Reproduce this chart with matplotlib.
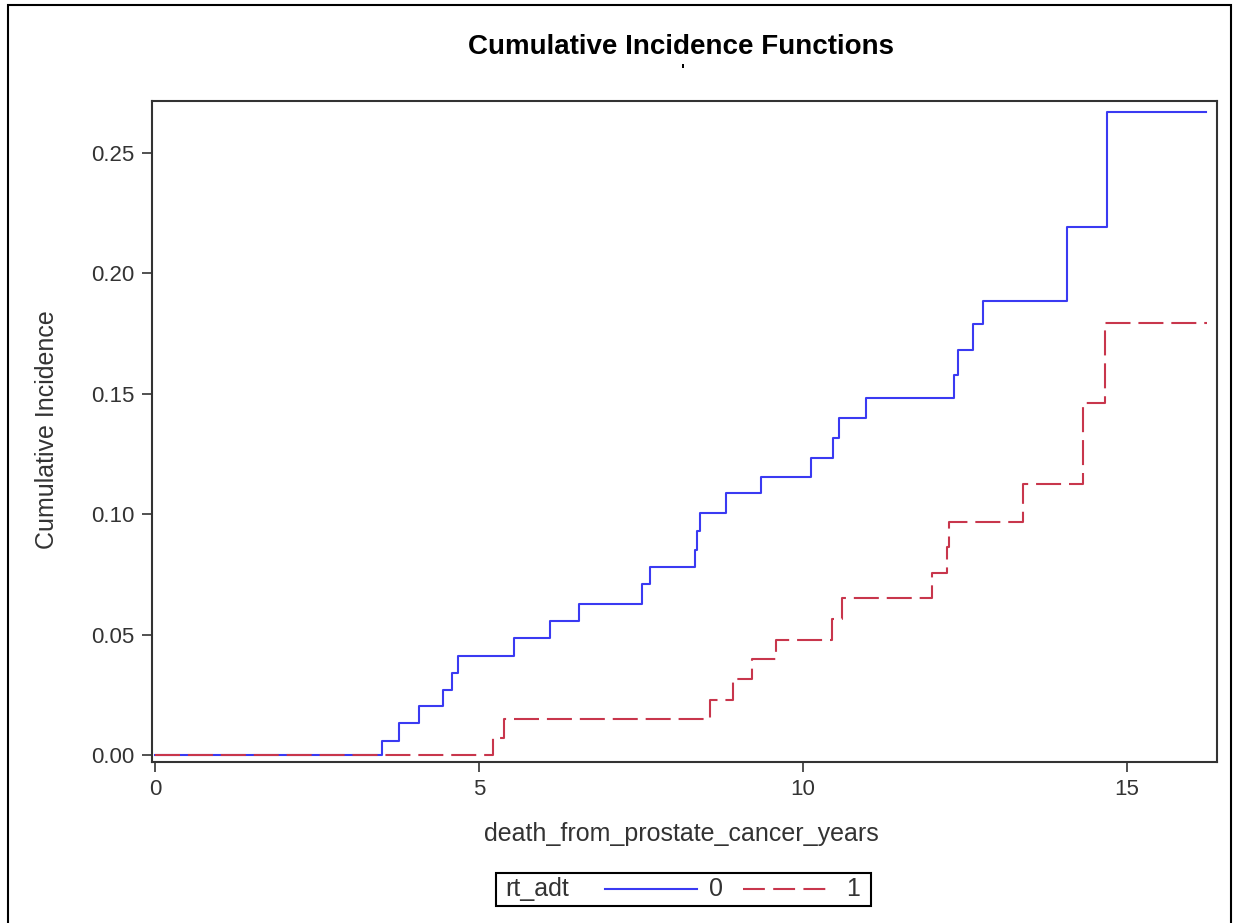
import matplotlib.pyplot as plt
from matplotlib.lines import Line2D
from matplotlib.patches import Rectangle

plt.rcParams['font.family'] = ['Liberation Sans', 'DejaVu Sans']

# step times / cumulative incidence
times_0 = [0, 3.51, 3.77, 4.08, 4.44, 4.59, 4.67, 5.54, 6.10, 6.55, 7.52, 7.64, 8.33, 8.36,
           8.41, 8.82, 9.36, 10.13, 10.46, 10.56, 10.97, 12.33, 12.39, 12.63, 12.78, 14.08,
           14.70, 16.22]
cif_0 = [0, 0.0059, 0.0132, 0.0203, 0.0270, 0.0342, 0.0412, 0.0484, 0.0558, 0.0627, 0.0709,
         0.0780, 0.0850, 0.0931, 0.1004, 0.1087, 0.1156, 0.1232, 0.1315, 0.1398, 0.1481,
         0.1578, 0.1682, 0.1789, 0.1885, 0.2194, 0.2672, 0.2672]

times_1 = [0, 5.21, 5.38, 8.56, 8.92, 9.22, 9.58, 10.45, 10.60, 11.99, 12.23, 12.26, 13.40,
           14.32, 14.66, 16.23]
cif_1 = [0, 0.0069, 0.0150, 0.0228, 0.0316, 0.0397, 0.0478, 0.0565, 0.0652, 0.0757, 0.0865,
         0.0969, 0.1124, 0.1460, 0.1793, 0.1793]

x_ticks = [0, 5, 10, 15]
y_ticks = [0.00, 0.05, 0.10, 0.15, 0.20, 0.25]

blue = '#3a3af2'
red = '#c8364c'
dark = '#333333'

fig = plt.figure(figsize=(12.35, 9.23), dpi=100)
ax = fig.add_axes([0.1231, 0.1744, 0.8623, 0.7162])

ax.step(times_0, cif_0, where='post', color=blue, lw=1.5)
ax.step(times_1, cif_1, where='post', color=red, lw=1.5, dashes=(12, 3.8))

ax.set_xlim(-0.046, 16.39)
ax.set_ylim(-0.0029, 0.2716)
ax.set_xticks(x_ticks)
ax.set_yticks(y_ticks)
ax.set_yticklabels([f'{v:.2f}' for v in y_ticks])
ax.tick_params(direction='out', length=7.5, width=1.2, colors=dark, labelsize=16, pad=5)
for s in ax.spines.values():
    s.set_color(dark)
    s.set_linewidth(1.5)

ax.set_xlabel('death_from_prostate_cancer_years', fontsize=18, color=dark)
ax.set_ylabel('Cumulative Incidence', fontsize=18, color=dark)
ax.xaxis.set_label_coords(0.497, -0.091)
ax.yaxis.set_label_coords(-0.087, 0.503)

fig.text(0.5514, 0.949, 'Cumulative Incidence Functions', ha='center', va='center',
         fontsize=20, fontweight='bold')
fig.text(0.553, 0.922, "'", ha='center', va='center', fontsize=12, fontweight='bold')

# legend drawn by hand: "rt_adt  —— 0  - - - 1"
H, W = 923.0, 1235.0
fig.patches.append(Rectangle((496 / W, 1 - 906 / H), 375 / W, 33 / H, transform=fig.transFigure,
                             fill=False, edgecolor='black', lw=1.5))
ly = 1 - 889 / H
fig.text(505 / W, ly, 'rt_adt', ha='left', va='center', fontsize=18, color=dark)
fig.lines.append(Line2D([605 / W, 697 / W], [ly, ly], transform=fig.transFigure, color=blue, lw=1.5))
fig.text(709 / W, ly, '0', ha='left', va='center', fontsize=18, color=dark)
fig.lines.append(Line2D([743 / W, 828 / W], [ly, ly], transform=fig.transFigure, color=red, lw=1.5,
                        dashes=(10.5, 4)))
fig.text(846 / W, ly, '1', ha='left', va='center', fontsize=18, color=dark)

# outer frame of the graph
fig.patches.append(Rectangle((8 / W, -0.01), 1223 / W, 1 - 5 / H + 0.01, transform=fig.transFigure,
                             fill=False, edgecolor='black', lw=1.5, clip_on=False))

fig.savefig('out.png', dpi=100)
